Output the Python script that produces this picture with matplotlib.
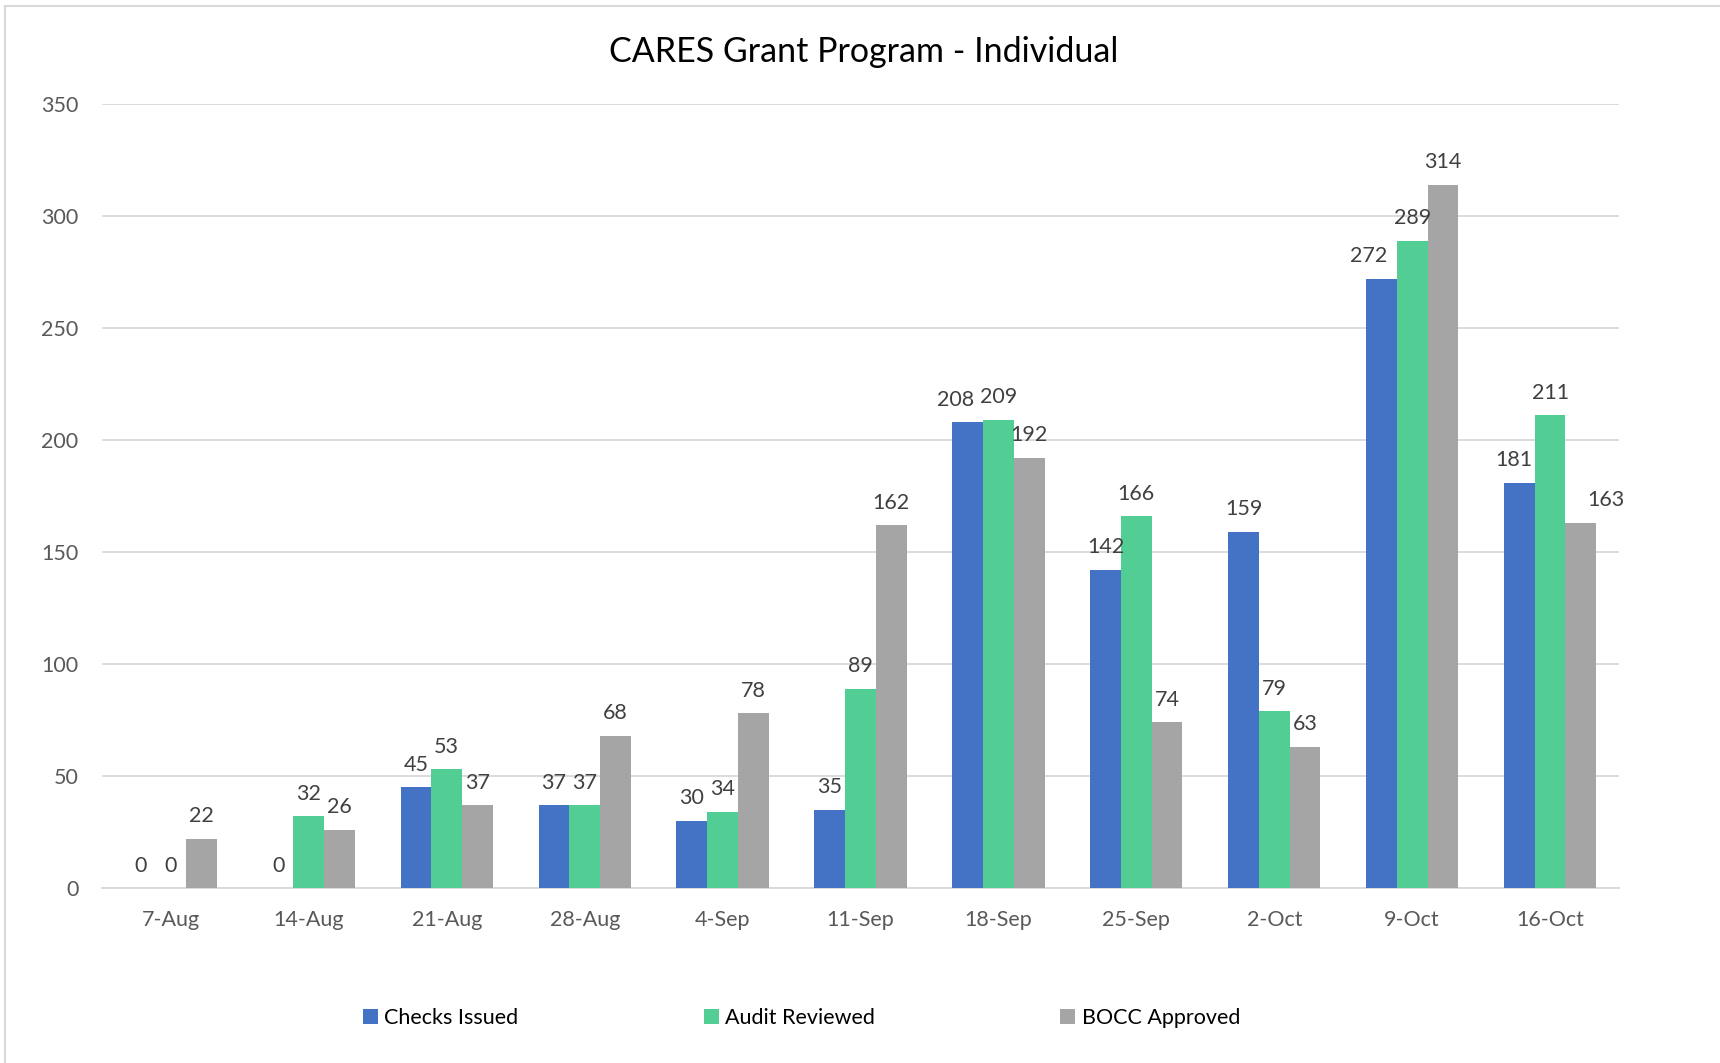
import matplotlib.pyplot as plt
import numpy as np
from matplotlib.patches import Rectangle

# data
weeks = ["7-Aug", "14-Aug", "21-Aug", "28-Aug", "4-Sep", "11-Sep",
         "18-Sep", "25-Sep", "2-Oct", "9-Oct", "16-Oct"]
checks_issued = [0, 0, 45, 37, 30, 35, 208, 142, 159, 272, 181]
audit_reviewed = [0, 32, 53, 37, 34, 89, 209, 166, 79, 289, 211]
bocc_approved = [22, 26, 37, 68, 78, 162, 192, 74, 63, 314, 163]

series_names = ["Checks Issued", "Audit Reviewed", "BOCC Approved"]
colors = ["#4472C4", "#52CE94", "#A5A5A5"]

plt.rcParams['font.family'] = ['Lato', 'DejaVu Sans']

fig = plt.figure(figsize=(17.2, 10.63), dpi=100)
ax = fig.add_axes([0.0593, 0.1646, 0.882, 0.7376])

# light frame around the chart area like the excel export
fig.patches.append(Rectangle((0.003, -0.05), 1.1, 1.044, transform=fig.transFigure,
                             fill=False, edgecolor="#D9D9D9", linewidth=1.5))

x = np.arange(len(weeks))
w = 0.223
label_shift = {(0, 6): -9, (0, 9): -9, (0, 10): -4, (2, 10): 18}

all_series = [checks_issued, audit_reviewed, bocc_approved]
for i, vals in enumerate(all_series):
    pos = x + (i - 1) * w
    ax.bar(pos, vals, width=w, color=colors[i], label=series_names[i], zorder=3)
    for j, v in enumerate(vals):
        dx = label_shift.get((i, j), 0)
        ax.annotate(str(v), (pos[j], v), xytext=(dx, 9), textcoords="offset points",
                    ha="center", va="bottom", fontsize=15.5, color="#404040", zorder=4)

ax.set_xlim(-0.5, len(weeks) - 0.5)
ax.set_ylim(0, 350)
ax.set_yticks(range(0, 351, 50))
ax.set_xticks(x)
ax.set_xticklabels(weeks)
ax.tick_params(axis="both", length=0, labelsize=15.5, labelcolor="#595959")
ax.tick_params(axis="x", pad=16)
ax.tick_params(axis="y", pad=17)
ax.grid(axis="y", color="#D9D9D9", linewidth=1.3, zorder=0)
for s in ["top", "right", "left"]:
    ax.spines[s].set_visible(False)
ax.spines["bottom"].set_color("#D9D9D9")
ax.spines["bottom"].set_linewidth(1.3)

fig.text(0.502, 0.951, "CARES Grant Program - Individual", ha="center", va="center",
         fontsize=24.5, color="black")

fig.legend(loc="center", bbox_to_anchor=(0.466, 0.042), ncol=3, frameon=False,
           fontsize=15.5, handlelength=0.7, handleheight=0.7, handletextpad=0.3,
           columnspacing=8.6, labelcolor="black")

fig.savefig("out.png", dpi=100)
